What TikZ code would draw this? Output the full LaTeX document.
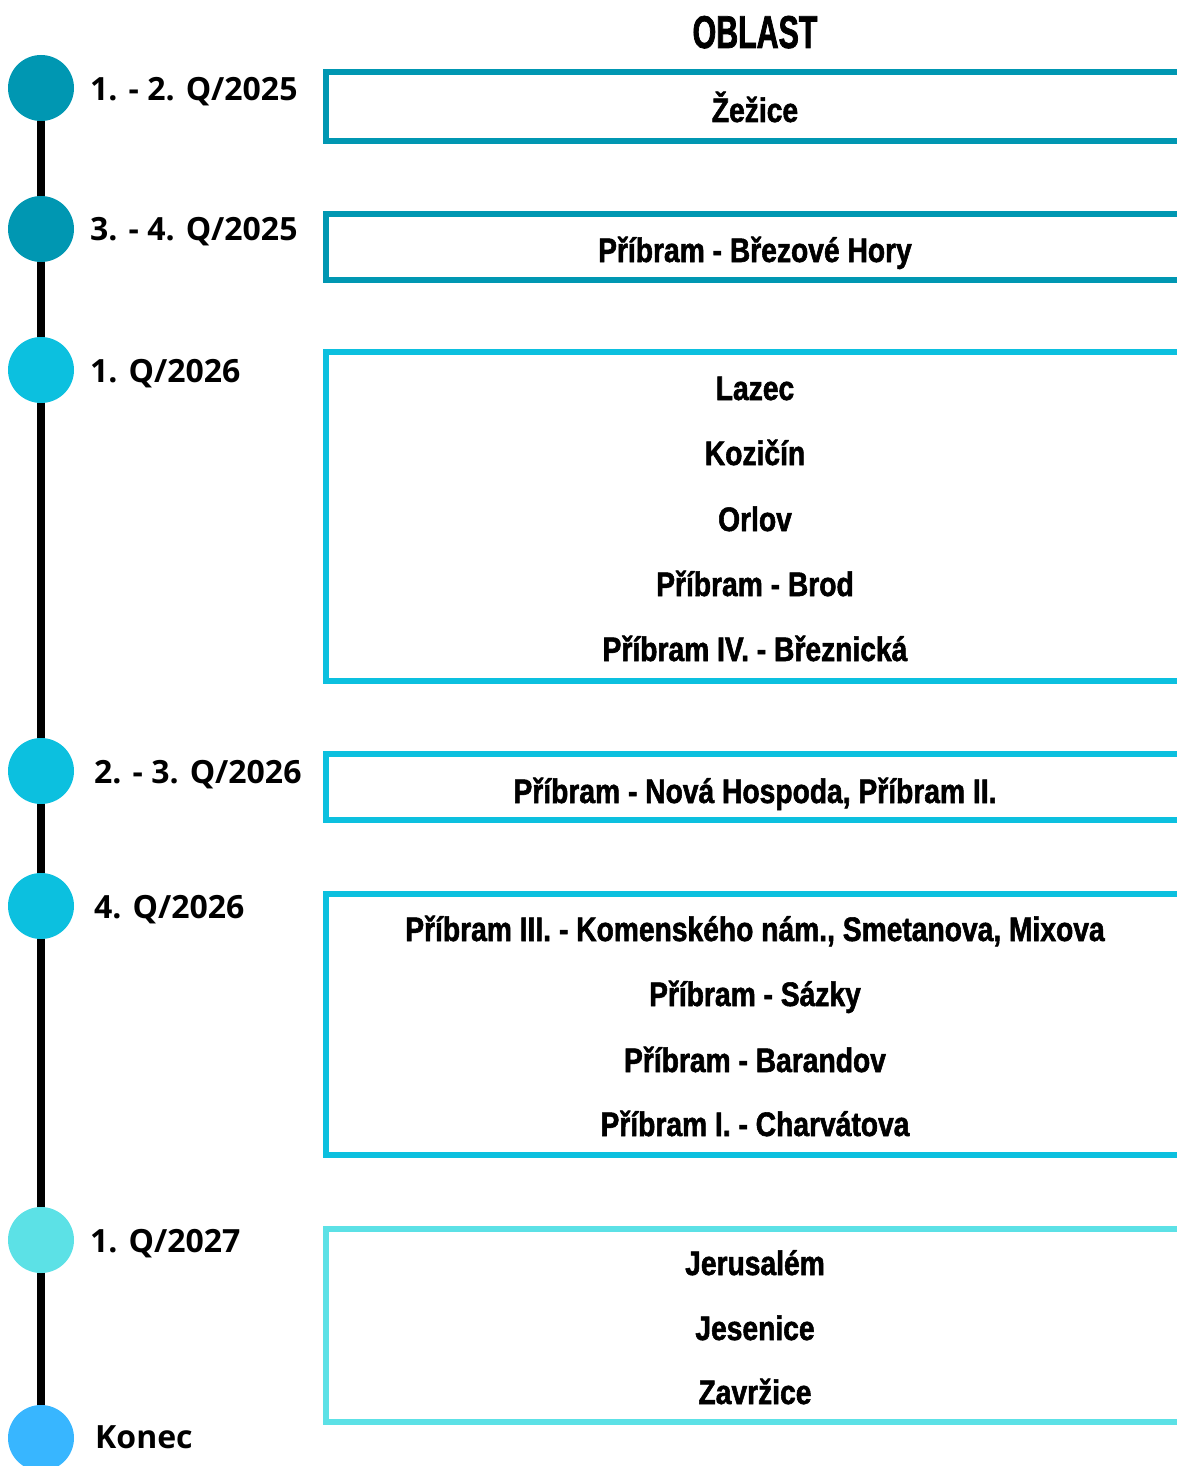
\documentclass[tikz,border=0pt]{standalone}
\usepackage{fontspec}
\setsansfont{Open Sans}
\newfontfamily\boxfont{Liberation Sans Bold}[FakeStretch=0.83,FakeBold=1.6]
\newfontfamily\headfont{Liberation Sans Bold}[FakeStretch=0.66,FakeBold=1.6]
\definecolor{tealdark}{HTML}{0097B2}
\definecolor{tealmid}{HTML}{0CC0DF}
\definecolor{teallight}{HTML}{5CE1E6}
\definecolor{skyblue}{HTML}{38B6FF}
\tikzset{
  when/.style={anchor=base west, inner sep=0pt, font=\sffamily\bfseries\fontsize{32}{36}\selectfont},
  place/.style={anchor=base, inner sep=0pt, font=\boxfont\fontsize{34}{40}\selectfont},
  frame/.style={line width=6pt},
}
\begin{document}
\begin{tikzpicture}[x=1pt,y=-1pt]
        \useasboundingbox (0,0) rectangle (1176,1466);
        \coordinate (Q1) at (41,88);
        \coordinate (Q2) at (41,229);
        \coordinate (Q3) at (41,370);
        \coordinate (Q4) at (41,771);
        \coordinate (Q5) at (41,906);
        \coordinate (Q6) at (41,1240);
        \coordinate (END) at (41,1438);

          \draw[line width=8pt] (Q1) -- (END);
          \fill[tealdark] (Q1) circle (33);
          \fill[tealdark] (Q2) circle (33);
          \fill[tealmid] (Q3) circle (33);
          \fill[tealmid] (Q4) circle (33);
          \fill[tealmid] (Q5) circle (33);
          \fill[teallight] (Q6) circle (33);
          \fill[skyblue] (END) circle (33);

        \node[when] (t1) at (90,101) {1. - 2. Q/2025};
        \node[when] (t2) at (90,240) {3. - 4. Q/2025};
        \node[when] (t3) at (90,382) {1. Q/2026};
        \node[when] (t4) at (94,783) {2. - 3. Q/2026};
        \node[when] (t5) at (94,918) {4. Q/2026};
        \node[when] (t6) at (90,1252) {1. Q/2027};
        \node[when] (t7) at (95,1448) {Konec};

          \draw[frame, tealdark] (1190,72) -| (326,141) -- (1190,141);
          \draw[frame, tealdark] (1190,214) -| (326,280) -- (1190,280);
          \draw[frame, tealmid] (1190,352) -| (326,681) -- (1190,681);
          \draw[frame, tealmid] (1190,754) -| (326,820) -- (1190,820);
          \draw[frame, tealmid] (1190,894) -| (326,1155) -- (1190,1155);
          \draw[frame, teallight] (1190,1229) -| (326,1422) -- (1190,1422);

        \node[place, font=\headfont\fontsize{46}{50}\selectfont] (head) at (755,48) {OBLAST};
        \node[place] (a1) at (755,122) {Žežice};
        \node[place] (b1) at (755,262) {Příbram - Březové Hory};
        \node[place] (c1) at (755,400) {Lazec};
        \node[place] (c2) at (755,465) {Kozičín};
        \node[place] (c3) at (755,531) {Orlov};
        \node[place] (c4) at (755,596) {Příbram - Brod};
        \node[place] (c5) at (755,661) {Příbram IV. - Březnická};
        \node[place] (d1) at (755,803) {Příbram - Nová Hospoda, Příbram II.};
        \node[place] (e1) at (755,941) {Příbram III. - Komenského nám., Smetanova, Mixova};
        \node[place] (e2) at (755,1006) {Příbram - Sázky};
        \node[place] (e3) at (755,1072) {Příbram - Barandov};
        \node[place] (e4) at (755,1136) {Příbram I. - Charvátova};
        \node[place] (f1) at (755,1275) {Jerusalém};
        \node[place] (f2) at (755,1340) {Jesenice};
        \node[place] (f3) at (755,1404) {Zavržice};
    \end{tikzpicture}
\end{document}
